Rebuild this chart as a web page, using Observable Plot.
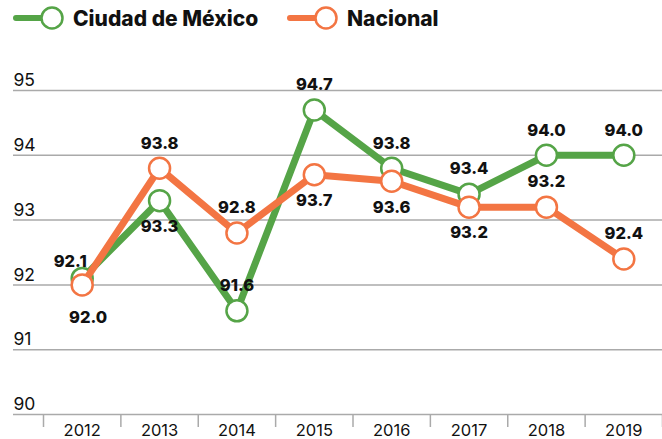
<!DOCTYPE html>
<html>
<head>
<meta charset="utf-8">
<script src="https://cdn.jsdelivr.net/npm/d3@7"></script>
<script src="https://cdn.jsdelivr.net/npm/@observablehq/plot@0.6"></script>
<style>
  html, body { margin: 0; padding: 0; background: #fff; }
  body { width: 662px; height: 439px; overflow: hidden; font-family: Inter, "Noto Sans", sans-serif; }
  #legend { height: 40px; position: relative; }
  #legend .item { position: absolute; top: 3px; display: flex; align-items: center; font-weight: 800; font-size: 21px; color: #111; }
  #legend svg { margin-right: 8px; }
</style>
</head>
<body>
<div id="legend"></div>
<div id="chart"></div>
<script>
const years = [2012, 2013, 2014, 2015, 2016, 2017, 2018, 2019];
const cdmx = [92.1, 93.3, 91.6, 94.7, 93.8, 93.4, 94.0, 94.0];
const nacional = [92.0, 93.8, 92.8, 93.7, 93.6, 93.2, 93.2, 92.4];
const cdmxPlacement = ["left", "below", "above", "above", "above", "above", "above", "above"];
const nacionalPlacement = ["belowRight", "above", "above", "below", "below", "below", "above", "above"];
const yTicks = [90, 91, 92, 93, 94, 95];
const seriesNames = ["Ciudad de México", "Nacional"];
const colors = ["#55a447", "#f37543"];

// legend
const legend = document.getElementById("legend");
const legendX = [13, 287];
seriesNames.forEach((name, i) => {
  const div = document.createElement("div");
  div.className = "item";
  div.style.left = legendX[i] + "px";
  div.innerHTML = `<svg width="52" height="30"><line x1="3" y1="15" x2="32" y2="15" stroke="${colors[i]}" stroke-width="6" stroke-linecap="round"/><circle cx="39" cy="15" r="10.5" fill="#fff" stroke="${colors[i]}" stroke-width="2.5"/></svg><span>${name}</span>`;
  legend.appendChild(div);
});

const rows = [];
years.forEach((yr, i) => {
  rows.push({year: yr, value: cdmx[i], series: seriesNames[0], place: cdmxPlacement[i]});
});
years.forEach((yr, i) => {
  rows.push({year: yr, value: nacional[i], series: seriesNames[1], place: nacionalPlacement[i]});
});
const cRows = rows.filter(d => d.series === seriesNames[0]);
const nRows = rows.filter(d => d.series === seriesNames[1]);
const dyOf = p => p === "above" ? -25 : p === "below" ? 26 : p === "left" ? -17 : 33;
const dxOf = p => p === "left" ? -12 : p === "belowRight" ? 6 : 0;
const boundaries = years.map(y => y - 0.5).concat([years[years.length - 1] + 0.5]);

function labelMarks(data) {
  return ["above", "below", "left", "belowRight"].map(p =>
    Plot.text(data.filter(d => d.place === p), {
      x: "year", y: "value", text: d => d.value.toFixed(1),
      dy: dyOf(p), dx: dxOf(p), fontSize: 16.5, fontWeight: 800, fill: "#111",
      lineAnchor: "middle"
    })
  );
}

const chart = Plot.plot({
  width: 662,
  height: 399,
  marginLeft: 13,
  marginRight: 0,
  marginTop: 0,
  marginBottom: 25,
  style: {fontFamily: "Inter, 'Noto Sans', sans-serif", background: "#fff", overflow: "visible"},
  x: {type: "linear", domain: [2011.5, 2019.5], range: [43, 662], axis: null},
  y: {domain: [90, 95], range: [374, 50], axis: null},
  marks: [
    Plot.ruleY(yTicks, {y: d => d, stroke: "#aaaaaa", strokeWidth: 1.5}),
    Plot.text(yTicks, {y: d => d, text: d => String(d), frameAnchor: "left", textAnchor: "start", lineAnchor: "middle", dy: -10, fontSize: 17.5, fill: "#111"}),
    Plot.ruleX(boundaries, {x: d => d, y1: 90, y2: 90, insetBottom: -13, stroke: "#aaaaaa", strokeWidth: 1.5}),
    Plot.text(years, {x: d => d, y: 90, dy: 16, text: d => String(d), lineAnchor: "middle", fontSize: 16.5, fill: "#111"}),
    Plot.line(cRows, {x: "year", y: "value", stroke: colors[0], strokeWidth: 7}),
    Plot.dot(cRows, {x: "year", y: "value", r: 10.5, fill: "#fff", stroke: colors[0], strokeWidth: 2.5}),
    Plot.line(nRows, {x: "year", y: "value", stroke: colors[1], strokeWidth: 7}),
    Plot.dot(nRows, {x: "year", y: "value", r: 10.5, fill: "#fff", stroke: colors[1], strokeWidth: 2.5}),
    ...labelMarks(cRows),
    ...labelMarks(nRows)
  ]
});
document.getElementById("chart").appendChild(chart);
</script>
</body>
</html>
